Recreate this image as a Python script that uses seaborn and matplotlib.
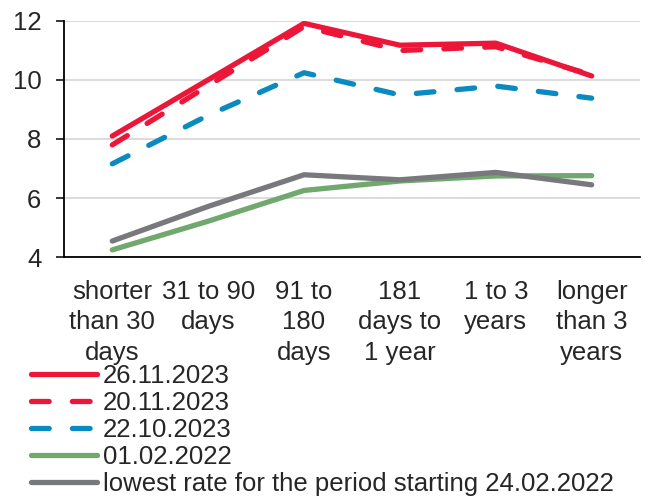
import matplotlib.pyplot as plt
import seaborn as sns
import pandas as pd
from matplotlib.ticker import FixedLocator

categories = ['shorter\nthan 30\ndays', '31 to 90\ndays', '91 to\n180\ndays',
              '181\ndays to\n1 year', '1 to 3\nyears', 'longer\nthan 3\nyears']

rate_26_11_2023 = [8.10, 10.00, 11.91, 11.17, 11.24, 10.13]
rate_20_11_2023 = [7.80, 9.80, 11.80, 10.99, 11.12, 10.17]
rate_22_10_2023 = [7.16, 8.80, 10.24, 9.49, 9.79, 9.38]
rate_01_02_2022 = [4.25, 5.22, 6.26, 6.58, 6.75, 6.76]
rate_lowest = [4.55, 5.72, 6.79, 6.62, 6.87, 6.45]

dash = (0, (3.35, 4.4))
series = [
    ('26.11.2023', rate_26_11_2023, '#EC1639', '-'),
    ('20.11.2023', rate_20_11_2023, '#EC1639', dash),
    ('22.10.2023', rate_22_10_2023, '#0A8AC0', dash),
    ('01.02.2022', rate_01_02_2022, '#71A86E', '-'),
    ('lowest rate for the period starting 24.02.2022', rate_lowest, '#78797D', '-'),
]

sns.set_style('white')
plt.rcParams['font.family'] = ['Liberation Sans', 'DejaVu Sans']
plt.rcParams['font.size'] = 18.5

fig = plt.figure(figsize=(6.5, 4.97), dpi=100)
ax = fig.add_axes([0.099, 0.4823, 0.885, 0.4761])

x = list(range(len(categories)))
for name, vals, color, ls in series:
    df = pd.DataFrame({'x': x, 'rate': vals})
    sns.lineplot(data=df, x='x', y='rate', ax=ax, color=color, linestyle=ls,
                 linewidth=3.8, label=name, solid_capstyle='round',
                 dash_capstyle='round', solid_joinstyle='round')

ax.set_xlim(-0.5, len(categories) - 0.5)
ax.set_ylim(4, 12)
ax.set_yticks([4, 6, 8, 10, 12])
ax.set_xticks(x)
ax.set_xticklabels(categories, linespacing=1.35)
ax.xaxis.set_minor_locator(FixedLocator([i - 0.5 for i in range(len(categories) + 1)]))
ax.tick_params(axis='x', which='major', length=0, pad=16)
ax.tick_params(axis='x', which='minor', length=5.5, width=1.1, color='black', direction='out')
ax.tick_params(axis='y', length=5.5, width=1.1, color='black', direction='out', left=True, pad=11)
ax.set_xlabel('')
ax.set_ylabel('')
ax.grid(axis='y', color='#D9D9D9', linewidth=1.3)
ax.set_axisbelow(True)
for side in ['top', 'right']:
    ax.spines[side].set_visible(False)
for side in ['left', 'bottom']:
    ax.spines[side].set_color('black')
    ax.spines[side].set_linewidth(1.3)

ax.legend(loc='upper left', bbox_to_anchor=(0.047, 0.267), bbox_transform=fig.transFigure,
          frameon=False, handlelength=2.57, handletextpad=0.25, labelspacing=0.11,
          borderpad=0, borderaxespad=0, fontsize=18.5)

fig.savefig('out.png', dpi=100)
